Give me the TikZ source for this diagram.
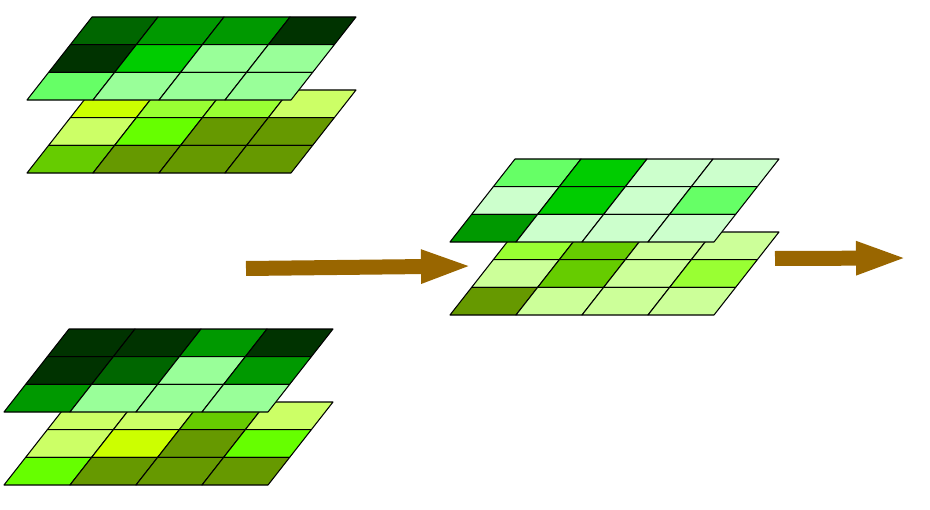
\documentclass[tikz,border=0pt]{standalone}
\usepackage{xcolor}
\usetikzlibrary{arrows.meta}

\definecolor{gNight}{HTML}{003300}
\definecolor{gForest}{HTML}{006600}
\definecolor{gDeep}{HTML}{009900}
\definecolor{gVivid}{HTML}{00CC00}
\definecolor{gBright}{HTML}{66FF66}
\definecolor{gMint}{HTML}{99FF99}
\definecolor{gPale}{HTML}{CCFFCC}
\definecolor{yOlive}{HTML}{669900}
\definecolor{yMoss}{HTML}{66CC00}
\definecolor{yLime}{HTML}{66FF00}
\definecolor{yLeaf}{HTML}{99FF33}
\definecolor{yAcid}{HTML}{CCFF00}
\definecolor{ySoft}{HTML}{CCFF66}
\definecolor{yPale}{HTML}{CCFF99}
\definecolor{flowBrown}{HTML}{996600}

\tikzset{
  cell/.style={draw=black, line width=0.6pt, line join=round},
  flowarrow/.style={draw=flowBrown, line width=0.3cm, -{Triangle[length=1.04cm, width=0.6cm]}}
}

% #1 = top left corner of the layer, #2 = twelve colours, row by row
\newcommand{\drawlayer}[2]{
  \begin{scope}[shift={(#1)}]
    \foreach \cellcol [count=\n from 0] in {#2} {
      \pgfmathtruncatemacro{\row}{\n/4}
      \pgfmathtruncatemacro{\col}{\n-4*\row}
      \draw[cell, fill=\cellcol] (\col*66-\row*21.67, \row*27.67) -- ++(66,0) -- ++(-21.67,27.67) -- ++(-66,0) -- cycle;
    }
  \end{scope}
}

\begin{document}
\begin{tikzpicture}[x=0.02cm, y=-0.02cm]
\useasboundingbox (0,0) rectangle (930,510);

% top stack
\drawlayer{92,90}{yAcid,yLeaf,yLeaf,ySoft, ySoft,yLime,yOlive,yOlive, yMoss,yOlive,yOlive,yOlive}
\drawlayer{92,17}{gForest,gDeep,gDeep,gNight, gNight,gVivid,gMint,gMint, gBright,gMint,gMint,gMint}

% bottom stack
\drawlayer{69,402}{ySoft,ySoft,yMoss,ySoft, ySoft,yAcid,yOlive,yLime, yLime,yOlive,yOlive,yOlive}
\drawlayer{69,329}{gNight,gNight,gDeep,gNight, gNight,gForest,gMint,gDeep, gDeep,gMint,gMint,gMint}

% result stack
\drawlayer{515,232}{yLeaf,yMoss,yPale,yPale, yPale,yMoss,yPale,yLeaf, yOlive,yPale,yPale,yPale}
\drawlayer{515,159}{gBright,gVivid,gPale,gPale, gPale,gVivid,gPale,gBright, gDeep,gPale,gPale,gPale}

% arrows
\coordinate (inStart) at (246,268.5);
\coordinate (inEnd) at (473,266);
\coordinate (outStart) at (775,258.5);
\coordinate (outEnd) at (908,258);
\draw[flowarrow] (inStart) -- (inEnd);
\draw[flowarrow] (outStart) -- (outEnd);
\end{tikzpicture}
\end{document}
